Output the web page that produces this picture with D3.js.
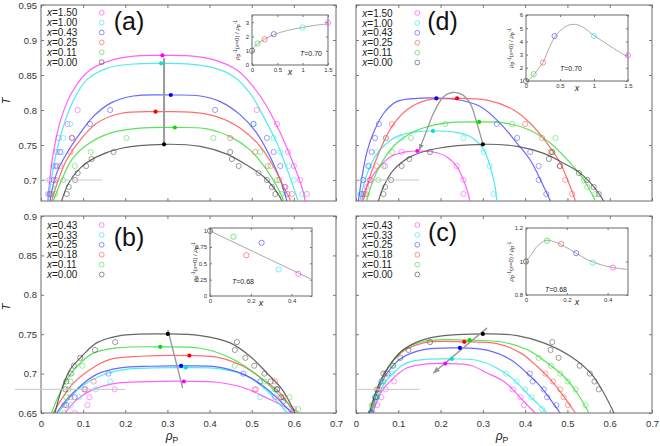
<!DOCTYPE html>
<html><head><meta charset="utf-8">
<script src="https://cdn.jsdelivr.net/npm/d3@7"></script>
<style>
body{margin:0;background:#fff}
svg{display:block;font-family:"Liberation Sans",Arial,Helvetica,sans-serif}
</style>
</head><body>
<svg id="chart" width="660" height="446"></svg>
<script>
// ================= DATA =================
const rhoTicks = [0, 0.1, 0.2, 0.3, 0.4, 0.5, 0.6, 0.7];
const tTicksTop = [0.7, 0.75, 0.8, 0.85, 0.9, 0.95];
const tTicksBottom = [0.65, 0.7, 0.75, 0.8, 0.85, 0.9];
const legendAD = ["1.50", "1.00", "0.43", "0.25", "0.11", "0.00"];
const legendBC = ["0.43", "0.33", "0.25", "0.18", "0.11", "0.00"];
const lineColors = ["#ff44ff", "#33e8e8", "#4d4dff", "#ff5555", "#3ddd3d", "#4a4a4a"];
const dotColors  = ["#ff00ff", "#00e0e0", "#0000ff", "#ff0000", "#00dd00", "#000000"];

// ---- panel (a) ----
const critA = [[0.288,0.878],[0.285,0.8667],[0.308,0.8214],[0.272,0.7976],[0.3175,0.775],[0.292,0.751]];
const curvesA = [
  [[0.016,0.670],[0.029,0.738],[0.049,0.7905],[0.077,0.829],[0.116,0.857],[0.172,0.872],[0.235,0.8776],[0.288,0.878],[0.346,0.8776],[0.409,0.872],[0.465,0.857],[0.504,0.833],[0.536,0.805],[0.568,0.767],[0.595,0.729],[0.619,0.690],[0.627,0.670]],
  [[0.017,0.670],[0.033,0.729],[0.053,0.776],[0.077,0.814],[0.1085,0.843],[0.156,0.8595],[0.219,0.8657],[0.285,0.8667],[0.346,0.866],[0.409,0.8605],[0.457,0.848],[0.496,0.824],[0.528,0.7905],[0.560,0.7524],[0.5875,0.7095],[0.610,0.670]],
  [[0.021,0.670],[0.037,0.7095],[0.061,0.738],[0.093,0.767],[0.124,0.7905],[0.164,0.8095],[0.219,0.820],[0.308,0.8214],[0.378,0.820],[0.425,0.812],[0.473,0.793],[0.512,0.767],[0.544,0.733],[0.568,0.700],[0.5835,0.670]],
  [[0.025,0.670],[0.041,0.700],[0.061,0.729],[0.093,0.757],[0.132,0.781],[0.188,0.795],[0.272,0.7976],[0.362,0.7967],[0.417,0.7905],[0.473,0.774],[0.520,0.748],[0.552,0.719],[0.576,0.690],[0.593,0.670]],
  [[0.029,0.670],[0.049,0.700],[0.073,0.729],[0.1085,0.750],[0.164,0.767],[0.235,0.774],[0.3175,0.775],[0.394,0.773],[0.449,0.762],[0.496,0.743],[0.536,0.714],[0.564,0.686],[0.576,0.670]],
  [[0.049,0.670],[0.065,0.695],[0.093,0.717],[0.132,0.733],[0.188,0.745],[0.292,0.751],[0.378,0.748],[0.441,0.737],[0.489,0.721],[0.528,0.705],[0.556,0.686],[0.572,0.670]]
];
const pointsA = [
  [[0.017,0.68],[0.02,0.70],[0.029,0.72],[0.037,0.74],[0.041,0.76],[0.063,0.78],[0.087,0.80],[0.512,0.80],[0.56,0.78],[0.586,0.74],[0.60,0.72],[0.615,0.70],[0.631,0.68]],
  [[0.019,0.68],[0.026,0.69],[0.033,0.72],[0.049,0.74],[0.053,0.76],[0.069,0.78],[0.505,0.78],[0.552,0.76],[0.568,0.74],[0.588,0.72],[0.60,0.70],[0.62,0.68]],
  [[0.021,0.68],[0.03,0.70],[0.037,0.72],[0.045,0.74],[0.073,0.76],[0.116,0.78],[0.164,0.80],[0.413,0.80],[0.504,0.78],[0.536,0.76],[0.552,0.74],[0.568,0.72],[0.578,0.69],[0.585,0.68]],
  [[0.025,0.68],[0.035,0.70],[0.045,0.72],[0.07,0.74],[0.074,0.76],[0.449,0.76],[0.508,0.74],[0.538,0.72],[0.566,0.70],[0.58,0.69],[0.595,0.68]],
  [[0.033,0.68],[0.053,0.70],[0.08,0.72],[0.118,0.74],[0.203,0.76],[0.409,0.76],[0.52,0.74],[0.545,0.72],[0.56,0.70],[0.57,0.68]],
  [[0.061,0.68],[0.066,0.69],[0.081,0.70],[0.087,0.71],[0.107,0.72],[0.12,0.73],[0.172,0.74],[0.449,0.74],[0.453,0.73],[0.469,0.72],[0.516,0.71],[0.536,0.70],[0.548,0.69],[0.556,0.68]]
];
const guideA = [[0.292,0.751],[0.292,0.874]];
const isoA = [[0,0.70],[0.145,0.70]];
const insetXA = [1.5, 1.0, 0.43, 0.25, 0.11, 0.0];
const insetYA = [2.95, 2.63, 2.16, 1.8, 1.51, 1.0];
const insetCurveA = [[0,1],[0.05,1.28],[0.117,1.51],[0.25,1.8],[0.43,2.12],[0.7,2.42],[1.0,2.63],[1.25,2.78],[1.5,2.88]];

// ---- panel (d) ----
const critD = [[0.145,0.7414],[0.182,0.770],[0.190,0.8167],[0.239,0.8167],[0.291,0.783],[0.300,0.751]];
const curvesD = [
  [[0.013,0.670],[0.025,0.6905],[0.049,0.714],[0.081,0.733],[0.12,0.7405],[0.145,0.7414],[0.183,0.740],[0.215,0.733],[0.2385,0.719],[0.254,0.700],[0.265,0.681],[0.269,0.670]],
  [[0.0095,0.670],[0.017,0.6905],[0.033,0.719],[0.057,0.743],[0.096,0.762],[0.144,0.769],[0.182,0.770],[0.2306,0.7686],[0.27,0.762],[0.302,0.743],[0.3175,0.719],[0.329,0.6905],[0.333,0.670]],
  [[0.0055,0.670],[0.013,0.700],[0.025,0.738],[0.041,0.767],[0.065,0.795],[0.096,0.812],[0.144,0.8167],[0.19,0.8171],[0.2385,0.815],[0.294,0.805],[0.341,0.781],[0.381,0.7524],[0.412,0.7286],[0.444,0.6905],[0.460,0.670]],
  [[0.017,0.670],[0.033,0.705],[0.057,0.743],[0.0845,0.776],[0.12,0.80],[0.1675,0.814],[0.239,0.8167],[0.31,0.814],[0.373,0.80],[0.412,0.781],[0.452,0.7524],[0.483,0.724],[0.507,0.690],[0.519,0.670]],
  [[0.025,0.670],[0.041,0.700],[0.065,0.729],[0.096,0.7524],[0.144,0.771],[0.207,0.781],[0.2915,0.783],[0.357,0.781],[0.412,0.771],[0.46,0.7524],[0.507,0.724],[0.539,0.700],[0.566,0.670]],
  [[0.053,0.670],[0.065,0.6905],[0.0885,0.714],[0.128,0.733],[0.191,0.745],[0.300,0.751],[0.381,0.748],[0.444,0.738],[0.491,0.724],[0.531,0.7095],[0.562,0.6905],[0.586,0.670]]
];
const pointsD = [
  [[0.017,0.68],[0.025,0.69],[0.033,0.70],[0.069,0.72],[0.108,0.74],[0.238,0.72],[0.254,0.70],[0.254,0.68]],
  [[0.01,0.68],[0.017,0.70],[0.032,0.72],[0.049,0.74],[0.07,0.76],[0.107,0.76],[0.254,0.76],[0.302,0.74],[0.316,0.72],[0.325,0.68]],
  [[0.013,0.68],[0.017,0.70],[0.029,0.72],[0.037,0.74],[0.045,0.76],[0.054,0.78],[0.333,0.78],[0.381,0.76],[0.412,0.74],[0.432,0.72],[0.432,0.70],[0.450,0.68]],
  [[0.021,0.68],[0.033,0.70],[0.049,0.72],[0.071,0.76],[0.085,0.78],[0.40,0.78],[0.44,0.76],[0.46,0.74],[0.483,0.72],[0.495,0.70],[0.511,0.68]],
  [[0.025,0.68],[0.053,0.70],[0.065,0.72],[0.085,0.74],[0.13,0.76],[0.211,0.78],[0.369,0.78],[0.472,0.76],[0.464,0.74],[0.539,0.70],[0.547,0.69],[0.566,0.68]],
  [[0.065,0.68],[0.069,0.69],[0.083,0.70],[0.108,0.72],[0.126,0.73],[0.175,0.74],[0.464,0.74],[0.456,0.73],[0.482,0.72],[0.527,0.71],[0.547,0.70],[0.562,0.69],[0.574,0.68]]
];
const guideD = [[0.300,0.751],[0.286,0.781],[0.27,0.8095],[0.25,0.8224],[0.227,0.825],[0.207,0.819],[0.183,0.795],[0.1675,0.771],[0.1556,0.7524],[0.150,0.743]];
const isoD = [[0,0.70],[0.15,0.70]];
const insetXD = [1.5, 1.0, 0.42, 0.25, 0.114, 0.0];
const insetYD = [2.95, 4.4, 4.4, 2.4, 1.52, 1.0];
const insetCurveD = [[0,1],[0.074,1.23],[0.173,1.87],[0.248,2.38],[0.322,3.28],[0.421,4.31],[0.52,4.9],[0.66,5.28],[0.8,5.18],[1.0,4.45],[1.25,3.6],[1.5,2.8]];

// ---- panel (b) ----
const critB = [[0.339,0.690],[0.3436,0.7076],[0.3325,0.7097],[0.352,0.7229],[0.283,0.734],[0.301,0.7504]];
const curvesB = [
  [[0.057,0.65],[0.085,0.667],[0.124,0.680],[0.18,0.688],[0.259,0.6898],[0.339,0.6903],[0.417,0.689],[0.481,0.682],[0.536,0.669],[0.576,0.6585],[0.599,0.65]],
  [[0.041,0.65],[0.065,0.667],[0.097,0.684],[0.14,0.697],[0.196,0.705],[0.267,0.7072],[0.344,0.7076],[0.425,0.7059],[0.489,0.697],[0.528,0.682],[0.56,0.665],[0.5835,0.65]],
  [[0.037,0.65],[0.061,0.667],[0.093,0.684],[0.132,0.699],[0.188,0.7072],[0.259,0.7093],[0.3325,0.7097],[0.417,0.7085],[0.481,0.699],[0.528,0.684],[0.564,0.667],[0.595,0.65]],
  [[0.029,0.65],[0.053,0.671],[0.077,0.688],[0.116,0.705],[0.164,0.718],[0.235,0.722],[0.352,0.7229],[0.425,0.72],[0.481,0.709],[0.528,0.692],[0.568,0.675],[0.591,0.6585],[0.603,0.65]],
  [[0.025,0.65],[0.041,0.671],[0.061,0.692],[0.085,0.709],[0.124,0.726],[0.18,0.7326],[0.283,0.734],[0.378,0.7322],[0.441,0.722],[0.496,0.705],[0.536,0.688],[0.576,0.667],[0.611,0.65]],
  [[0.033,0.65],[0.049,0.680],[0.069,0.705],[0.097,0.722],[0.132,0.739],[0.188,0.7483],[0.301,0.7504],[0.378,0.7483],[0.449,0.739],[0.496,0.722],[0.536,0.7008],[0.572,0.680],[0.595,0.6585],[0.603,0.65]]
];
const pointsB = [
  [[0.08,0.65],[0.11,0.66],[0.115,0.67],[0.175,0.68],[0.507,0.68],[0.555,0.67],[0.60,0.655]],
  [[0.07,0.66],[0.09,0.67],[0.13,0.68],[0.164,0.69],[0.52,0.67],[0.55,0.675],[0.585,0.655]],
  [[0.06,0.66],[0.08,0.67],[0.103,0.68],[0.16,0.70],[0.48,0.70],[0.52,0.69],[0.56,0.68],[0.575,0.665]],
  [[0.055,0.66],[0.07,0.67],[0.105,0.68],[0.125,0.69],[0.51,0.68],[0.555,0.69],[0.575,0.67]],
  [[0.055,0.65],[0.06,0.67],[0.065,0.68],[0.07,0.69],[0.098,0.71],[0.46,0.71],[0.53,0.69],[0.555,0.68],[0.59,0.67],[0.61,0.655]],
  [[0.058,0.68],[0.06,0.69],[0.071,0.70],[0.078,0.71],[0.093,0.72],[0.128,0.73],[0.176,0.74],[0.465,0.74],[0.46,0.73],[0.485,0.72],[0.506,0.71],[0.53,0.70],[0.545,0.69],[0.56,0.68],[0.57,0.67]]
];
const guideB = [[0.301,0.7555],[0.336,0.6818]];
const isoB = [[-0.062,0.68],[0.2,0.68]];
const insetXB = [0.433, 0.337, 0.253, 0.178, 0.115, 0.0];
const insetYB = [0.34, 0.407, 0.814, 0.624, 0.907, 0.995];
const insetLineB = [[0,0.995],[0.503,0.247]];

// ---- panel (c) ----
const critC = [[0.211,0.7127],[0.2267,0.7186],[0.2457,0.7326],[0.256,0.7403],[0.2686,0.7424],[0.300,0.7504]];
const curvesC = [
  [[0.0395,0.65],[0.0608,0.6775],[0.0845,0.6924],[0.12,0.7072],[0.1675,0.7123],[0.211,0.7127],[0.27,0.7106],[0.31,0.7008],[0.349,0.6903],[0.371,0.6797],[0.393,0.667],[0.412,0.6564],[0.424,0.65]],
  [[0.037,0.65],[0.0569,0.6775],[0.0806,0.6966],[0.12,0.7136],[0.1675,0.7182],[0.2267,0.7186],[0.286,0.7169],[0.333,0.7072],[0.373,0.6924],[0.404,0.6754],[0.428,0.6627],[0.452,0.65]],
  [[0.0348,0.65],[0.053,0.6797],[0.0766,0.703],[0.108,0.7199],[0.16,0.7305],[0.2457,0.7326],[0.31,0.7297],[0.365,0.7178],[0.404,0.7008],[0.436,0.6839],[0.46,0.667],[0.483,0.65]],
  [[0.033,0.65],[0.049,0.6775],[0.0727,0.705],[0.108,0.7271],[0.16,0.739],[0.256,0.7403],[0.333,0.7381],[0.389,0.7263],[0.428,0.7093],[0.46,0.6924],[0.491,0.6712],[0.519,0.65]],
  [[0.033,0.65],[0.049,0.6775],[0.0727,0.705],[0.108,0.7284],[0.16,0.7411],[0.2686,0.7424],[0.349,0.7398],[0.404,0.7305],[0.452,0.7136],[0.491,0.6966],[0.523,0.6754],[0.551,0.65]],
  [[0.0316,0.65],[0.049,0.680],[0.0727,0.705],[0.112,0.7305],[0.175,0.7453],[0.300,0.7504],[0.381,0.7483],[0.444,0.739],[0.507,0.722],[0.5545,0.7008],[0.586,0.6754],[0.61,0.65]]
];
const pointsC = [
  [[0.04,0.65],[0.05,0.66],[0.06,0.67],[0.07,0.68],[0.09,0.69],[0.371,0.68],[0.389,0.67],[0.397,0.66]],
  [[0.038,0.655],[0.05,0.67],[0.065,0.69],[0.085,0.70],[0.355,0.70],[0.38,0.69],[0.40,0.68],[0.415,0.67],[0.44,0.655]],
  [[0.035,0.65],[0.048,0.67],[0.06,0.69],[0.075,0.70],[0.411,0.70],[0.418,0.69],[0.444,0.68],[0.452,0.67],[0.474,0.66]],
  [[0.04,0.66],[0.055,0.68],[0.07,0.70],[0.448,0.70],[0.466,0.69],[0.483,0.68],[0.491,0.67],[0.501,0.66]],
  [[0.037,0.66],[0.05,0.67],[0.064,0.69],[0.085,0.71],[0.432,0.72],[0.461,0.71],[0.483,0.70],[0.501,0.69],[0.519,0.68],[0.543,0.66]],
  [[0.035,0.65],[0.045,0.67],[0.05,0.68],[0.065,0.70],[0.088,0.71],[0.105,0.72],[0.124,0.73],[0.175,0.74],[0.464,0.74],[0.46,0.73],[0.479,0.72],[0.529,0.71],[0.553,0.70],[0.564,0.69],[0.574,0.68]]
];
const guideC = [[0.31,0.758],[0.183,0.7008]];
const isoC = [[0,0.68],[0.15,0.68]];
const insetXC = [0.426, 0.328, 0.246, 0.172, 0.103, 0.0];
const insetYC = [0.964, 0.994, 1.05, 1.104, 1.124, 1.0];
const insetCurveC = [[0,1],[0.025,1.04],[0.057,1.094],[0.098,1.126],[0.139,1.118],[0.189,1.09],[0.246,1.05],[0.303,1.01],[0.369,0.98],[0.426,0.964],[0.5,0.952]];

// ================= LAYOUT =================
const svg = d3.select("#chart");
const defs = svg.append("defs");
defs.append("marker").attr("id","arrow").attr("viewBox","0 0 10 10")
  .attr("refX",9).attr("refY",5).attr("markerWidth",5).attr("markerHeight",5)
  .attr("orient","auto").append("path").attr("d","M0,1L10,5L0,9z").attr("fill","#999");

const panels = [
  {id:"a", xr:[41,336], yr:[201,5], tDom:[0.67,0.95], tTicks:tTicksTop, yLabels:true, xLabels:false,
   legend:legendAD, legX:47, legC:101.7, legY:12.7, letter:"(a)", letX:129, letY:30,
   crit:critA, curves:curvesA, points:pointsA, guide:guideA, guideType:"vline", iso:isoA,
   inset:{xr:[252,328], yr:[65,15], xDom:[0,1.5], yDom:[0,3.5], xt:[0,0.5,1,1.5], yt:[0,1,2,3],
          px:insetXA, py:insetYA, curve:insetCurveA, label:"T=0.70", lx:300, ly:55.5}},
  {id:"d", xr:[356,652], yr:[201,5], tDom:[0.67,0.95], tTicks:tTicksTop, yLabels:false, xLabels:false,
   legend:legendAD, legX:362.3, legC:417.3, legY:13, letter:"(d)", letX:442.5, letY:30,
   crit:critD, curves:curvesD, points:pointsD, guide:guideD, guideType:"curveArrow", iso:isoD,
   inset:{xr:[526,628], yr:[81,15], xDom:[0,1.5], yDom:[1,6], xt:[0,0.5,1,1.5], yt:[1,2,3,4,5,6],
          px:insetXD, py:insetYD, curve:insetCurveD, label:"T=0.70", lx:560, ly:70.5}},
  {id:"b", xr:[41,336], yr:[413,216], tDom:[0.65,0.9], tTicks:tTicksBottom, yLabels:true, xLabels:true,
   legend:legendBC, legX:47, legC:101.7, legY:225, letter:"(b)", letX:129, letY:246,
   crit:critB, curves:curvesB, points:pointsB, guide:guideB, guideType:"line", iso:isoB,
   inset:{xr:[210,312], yr:[296,228], xDom:[0,0.5], yDom:[0,1.04], xt:[0,0.2,0.4], yt:[0,0.25,0.5,0.75,1],
          px:insetXB, py:insetYB, line:insetLineB, label:"T=0.68", lx:232, ly:284}},
  {id:"c", xr:[356,652], yr:[413,216], tDom:[0.65,0.9], tTicks:tTicksBottom, yLabels:false, xLabels:true,
   legend:legendBC, legX:362.3, legC:417.3, legY:225, letter:"(c)", letX:442.5, letY:241,
   crit:critC, curves:curvesC, points:pointsC, guide:guideC, guideType:"lineArrow", iso:isoC,
   inset:{xr:[526,628], yr:[295,228], xDom:[0,0.5], yDom:[0.8,1.2], xt:[0,0.2,0.4], yt:[0.8,1,1.2],
          px:insetXC, py:insetYC, curve:insetCurveC, label:"T=0.68", lx:545, ly:292}}
];

const frameColor = "#777";

panels.forEach(p => {
  const x = d3.scaleLinear().domain([0,0.7]).range(p.xr);
  const y = d3.scaleLinear().domain(p.tDom).range(p.yr);
  const g = svg.append("g");
  const clipId = "clip-" + p.id;
  defs.append("clipPath").attr("id", clipId).append("rect")
    .attr("x", p.xr[0]).attr("y", p.yr[1]).attr("width", p.xr[1]-p.xr[0]).attr("height", p.yr[0]-p.yr[1]);

  // axes (ticks inward, mirrored)
  const tickFmt = d3.format(".2~f");
  const axB = g.append("g").attr("transform",`translate(0,${p.yr[0]})`)
    .call(d3.axisBottom(x).tickValues(rhoTicks).tickSize(-3).tickPadding(7)
      .tickFormat(p.xLabels ? d3.format("~g") : ""));
  const axT = g.append("g").attr("transform",`translate(0,${p.yr[1]})`)
    .call(d3.axisTop(x).tickValues(rhoTicks).tickSize(-3).tickFormat(""));
  const axL = g.append("g").attr("transform",`translate(${p.xr[0]},0)`)
    .call(d3.axisLeft(y).tickValues(p.tTicks).tickSize(-3).tickPadding(4)
      .tickFormat(p.yLabels ? tickFmt : ""));
  const axR = g.append("g").attr("transform",`translate(${p.xr[1]},0)`)
    .call(d3.axisRight(y).tickValues(p.tTicks).tickSize(-3).tickFormat(""));
  [axB,axT,axL,axR].forEach(a => {
    a.select(".domain").remove();
    a.selectAll("line").attr("stroke", frameColor);
    a.selectAll("text").attr("font-size", 9.5).attr("fill", "#333")
      .attr("font-family","Liberation Sans, Arial, sans-serif");
  });

  g.append("rect").attr("x",p.xr[0]).attr("y",p.yr[1])
    .attr("width",p.xr[1]-p.xr[0]).attr("height",p.yr[0]-p.yr[1])
    .attr("fill","none").attr("stroke",frameColor).attr("stroke-width",1.1);

  const plot = g.append("g").attr("clip-path",`url(#${clipId})`);
  // iso-temperature line
  g.append("line").attr("x1",x(p.iso[0][0])).attr("x2",x(p.iso[1][0]))
    .attr("y1",y(p.iso[0][1])).attr("y2",y(p.iso[1][1]))
    .attr("stroke","#c8c8c8").attr("stroke-width",1);

  const line = d3.line().x(d=>x(d[0])).y(d=>y(d[1])).curve(d3.curveCatmullRom.alpha(0.5));
  p.curves.forEach((c,i) => {
    plot.append("path").attr("d", line(c)).attr("fill","none")
      .attr("stroke", lineColors[i]).attr("stroke-width",1.2).attr("stroke-opacity",0.85);
  });

  // guide line through critical points
  const gl = d3.line().x(d=>x(d[0])).y(d=>y(d[1]));
  if (p.guideType === "curveArrow") {
    g.append("path").attr("d", line(p.guide)).attr("fill","none")
      .attr("stroke","#999").attr("stroke-width",1.3).attr("marker-end","url(#arrow)");
  } else {
    const gp = g.append("path").attr("d", gl(p.guide)).attr("fill","none")
      .attr("stroke","#999").attr("stroke-width", p.guideType==="vline" ? 2 : 1.4);
    if (p.guideType === "lineArrow") gp.attr("marker-end","url(#arrow)");
  }

  p.points.forEach((pts,i) => {
    plot.selectAll(null).data(pts).enter().append("circle")
      .attr("cx",d=>x(d[0])).attr("cy",d=>y(d[1])).attr("r",2.6)
      .attr("fill","none").attr("stroke",lineColors[i]).attr("stroke-width",0.9).attr("stroke-opacity",0.6);
  });
  g.selectAll(null).data(p.crit).enter().append("circle")
    .attr("cx",d=>x(d[0])).attr("cy",d=>y(d[1])).attr("r",2.1)
    .attr("fill",(d,i)=>dotColors[i]);

  // legend
  p.legend.forEach((lab,i) => {
    const yy = p.legY + i*9.9;
    const t = g.append("text").attr("x",p.legX).attr("y",yy+3.6)
      .attr("font-size",10).attr("fill","#222");
    t.append("tspan").attr("font-style","italic").text("x");
    t.append("tspan").text("=" + lab);
    g.append("circle").attr("cx",p.legC).attr("cy",yy).attr("r",2.4)
      .attr("fill","none").attr("stroke",lineColors[i]).attr("stroke-width",0.9).attr("stroke-opacity",0.7);
  });

  g.append("text").attr("x",p.letX).attr("y",p.letY).attr("text-anchor","middle")
    .attr("font-size",25).attr("fill","#111").text(p.letter);

  // ---------- inset ----------
  const s = p.inset;
  const ix = d3.scaleLinear().domain(s.xDom).range(s.xr);
  const iy = d3.scaleLinear().domain(s.yDom).range(s.yr);
  const ig = g.append("g");
  ig.append("rect").attr("x",s.xr[0]).attr("y",s.yr[1]).attr("width",s.xr[1]-s.xr[0])
    .attr("height",s.yr[0]-s.yr[1]).attr("fill","#fff");
  const iaB = ig.append("g").attr("transform",`translate(0,${s.yr[0]})`)
    .call(d3.axisBottom(ix).tickValues(s.xt).tickSize(-2).tickPadding(3).tickFormat(d3.format("~g")));
  const iaT = ig.append("g").attr("transform",`translate(0,${s.yr[1]})`)
    .call(d3.axisTop(ix).tickValues(s.xt).tickSize(-2).tickFormat(""));
  const iaL = ig.append("g").attr("transform",`translate(${s.xr[0]},0)`)
    .call(d3.axisLeft(iy).tickValues(s.yt).tickSize(-2).tickPadding(3).tickFormat(d3.format("~g")));
  const iaR = ig.append("g").attr("transform",`translate(${s.xr[1]},0)`)
    .call(d3.axisRight(iy).tickValues(s.yt).tickSize(-2).tickFormat(""));
  [iaB,iaT,iaL,iaR].forEach(a => {
    a.select(".domain").remove();
    a.selectAll("line").attr("stroke",frameColor);
    a.selectAll("text").attr("font-size",6).attr("fill","#333")
      .attr("font-family","Liberation Sans, Arial, sans-serif");
  });
  ig.append("rect").attr("x",s.xr[0]).attr("y",s.yr[1]).attr("width",s.xr[1]-s.xr[0])
    .attr("height",s.yr[0]-s.yr[1]).attr("fill","none").attr("stroke",frameColor).attr("stroke-width",1.1);
  const il = d3.line().x(d=>ix(d[0])).y(d=>iy(d[1]));
  if (s.curve) {
    ig.append("path").attr("d", il.curve(d3.curveCatmullRom.alpha(0.5))(s.curve))
      .attr("fill","none").attr("stroke","#aaa").attr("stroke-width",1);
  } else {
    ig.append("path").attr("d", il(s.line)).attr("fill","none").attr("stroke","#aaa").attr("stroke-width",1);
  }
  s.px.forEach((v,i) => {
    ig.append("circle").attr("cx",ix(v)).attr("cy",iy(s.py[i])).attr("r",2.6)
      .attr("fill","none").attr("stroke",lineColors[i]).attr("stroke-width",0.9).attr("stroke-opacity",0.75);
  });
  const lt = ig.append("text").attr("x",s.lx).attr("y",s.ly).attr("font-size",7).attr("fill","#222");
  lt.append("tspan").attr("font-style","italic").text("T");
  lt.append("tspan").text(s.label.slice(1));
  ig.append("text").attr("x",(s.xr[0]+s.xr[1])/2).attr("y",s.yr[0]+10).attr("text-anchor","middle")
    .attr("font-size",9).attr("font-style","italic").attr("fill","#222").text("x");
  const yl = ig.append("text").attr("transform",`translate(${s.xr[0]-13},${(s.yr[0]+s.yr[1])/2}) rotate(-90)`)
    .attr("text-anchor","middle").attr("font-size",6).attr("fill","#333");
  yl.append("tspan").attr("font-style","italic").text("ρ");
  yl.append("tspan").attr("font-size",4.5).attr("dy",1.5).text("P");
  yl.append("tspan").attr("font-size",4.5).attr("dy",-4).text("-1");
  yl.append("tspan").attr("dy",2.5).text("(");
  yl.append("tspan").attr("font-style","italic").text("x");
  yl.append("tspan").text("=0) / ");
  yl.append("tspan").attr("font-style","italic").text("ρ");
  yl.append("tspan").attr("font-size",4.5).attr("dy",1.5).text("P");
  yl.append("tspan").attr("font-size",4.5).attr("dy",-4).text("-1");
});

// axis titles
[[10,101],[10,307]].forEach(([tx,ty]) => {
  svg.append("text").attr("transform",`translate(${tx},${ty}) rotate(-90)`)
    .attr("text-anchor","middle").attr("font-size",11).attr("font-style","italic").attr("fill","#222").text("T");
});
[172, 502].forEach(cx => {
  const t = svg.append("text").attr("x",cx).attr("y",440).attr("text-anchor","middle")
    .attr("font-size",12).attr("fill","#222");
  t.append("tspan").attr("font-style","italic").text("ρ");
  t.append("tspan").attr("font-size",8.5).attr("dy",3).text("P");
});
</script>
</body></html>
